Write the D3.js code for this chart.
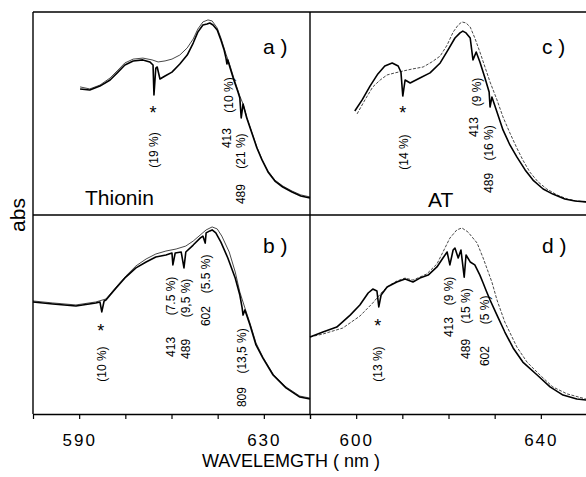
<!DOCTYPE html>
<html>
<head>
<meta charset="utf-8">
<script src="https://cdn.jsdelivr.net/npm/d3@7"></script>
<style>
  body { margin: 0; background: #fff; }
  svg { display: block; font-family: "Liberation Sans", Arial, sans-serif; }
  .frame { stroke: #000; stroke-width: 1.4; fill: none; }
  .sample { stroke: #000; stroke-width: 1.6; fill: none; stroke-linejoin: round; }
  .ref { stroke: #333; stroke-width: 0.9; fill: none; }
  .ref.dashed { stroke-dasharray: 3 1.5; }
  .note { font-size: 12px; }
  .tick text { font-size: 17px; letter-spacing: 2px; }
</style>
</head>
<body>
<svg id="chart" width="586" height="477"></svg>
<script>
// --- data (wavelength nm, abs in arbitrary units 0-100) ---
const thioninTopSample = [[590.2,62.1],[592.3,61.6],[594.5,63.5],[596.7,66.5],[598.4,70.4],[599.9,73.9],[601.7,75.9],[603.8,76.4],[605.3,75.4],[606.0,73.9],[606.2,59.1],[606.6,72.4],[606.9,72.9],[607.5,67.0],[608.6,68.5],[610.1,70.4],[611.8,74.4],[613.4,78.8],[614.7,84.7],[615.7,90.1],[616.8,93.6],[617.7,94.1],[618.3,94.6],[619.0,93.6],[619.9,91.1],[620.7,86.2],[621.4,81.3],[621.8,77.3],[622.0,74.4],[622.2,76.4],[622.7,72.4],[623.5,66.5],[624.4,60.6],[624.8,57.6],[625.1,47.8],[625.5,54.7],[626.3,47.8],[627.4,40.4],[628.5,33.0],[629.6,27.1],[630.9,21.2],[632.4,16.7],[634.1,13.8],[636.1,11.3],[638.0,9.4],[640.0,8.4]];
const thioninTopRef = [[590.2,63.1],[592.3,62.1],[594.5,64.0],[596.7,67.5],[598.4,71.4],[599.9,74.9],[601.7,76.8],[603.8,77.3],[605.8,76.4],[607.1,75.4],[608.6,75.9],[610.1,76.8],[611.8,78.8],[613.4,82.3],[614.7,86.7],[615.7,91.6],[616.8,95.1],[617.9,96.1],[618.8,95.6],[619.9,92.1],[620.7,87.2],[621.8,79.3],[622.7,73.4],[623.5,67.5],[624.8,58.6],[625.5,54.7],[626.3,48.3],[627.4,40.9],[628.5,33.5],[629.6,27.6],[630.9,21.7],[632.4,17.2],[634.1,14.3],[636.1,11.8],[638.0,9.9],[640.0,8.9]];

const thioninBotSample = [[580.0,56.3],[584.3,55.3],[589.3,54.3],[593.6,55.8],[594.5,56.3],[594.9,51.3],[595.4,56.8],[595.8,57.3],[598.0,63.3],[600.1,68.8],[602.3,73.4],[604.5,76.4],[606.6,78.9],[608.8,79.9],[610.1,80.9],[610.3,74.9],[610.8,80.9],[612.1,81.4],[612.7,73.4],[613.1,81.4],[614.7,84.9],[616.2,88.4],[616.8,89.4],[617.3,85.9],[617.5,91.0],[618.3,92.0],[618.8,92.5],[619.6,91.0],[620.7,86.4],[622.2,78.4],[623.8,68.3],[624.8,59.8],[625.3,53.3],[625.5,49.7],[625.9,52.3],[627.0,44.7],[628.3,34.7],[629.8,28.1],[632.0,19.6],[634.8,13.1],[637.8,8.5],[640.0,7.5]];
const thioninBotRef = [[580.0,56.8],[584.3,55.8],[589.3,54.8],[593.6,56.3],[595.8,57.8],[598.0,63.8],[600.1,69.3],[602.3,74.4],[604.5,77.9],[606.6,80.4],[608.8,81.9],[611.0,82.9],[613.1,84.4],[614.7,86.9],[616.2,89.9],[617.5,92.5],[618.8,94.0],[619.9,93.0],[620.9,89.4],[622.5,81.4],[623.8,71.4],[624.8,61.3],[625.9,53.3],[627.0,45.7],[628.3,35.7],[629.8,28.6],[632.0,20.1],[634.8,13.6],[637.8,9.0],[640.0,8.0]];

const atTopSample = [[599.7,51.2],[601.3,56.7],[603.0,63.5],[604.7,69.5],[606.2,73.4],[607.8,74.9],[609.1,73.4],[609.7,70.4],[610.1,58.6],[610.6,66.5],[611.7,65.0],[613.8,67.5],[616.0,70.0],[618.2,74.9],[619.9,81.3],[621.4,87.2],[622.5,89.7],[623.1,90.6],[623.8,89.7],[624.7,87.2],[625.3,76.4],[626.0,80.3],[626.8,75.4],[627.9,67.5],[628.8,60.6],[629.0,53.2],[629.4,58.1],[630.5,50.7],[631.8,41.9],[633.3,34.5],[634.8,28.6],[636.6,22.2],[638.3,17.2],[640.5,12.8],[642.6,10.3],[645.2,7.9],[647.4,6.9],[650.0,6.4]];
const atTopRef = [[600.2,49.8],[601.9,56.7],[603.6,63.1],[605.2,66.5],[606.7,69.0],[608.4,70.0],[610.1,70.9],[612.1,71.9],[614.5,72.9],[616.4,75.4],[618.2,78.3],[619.7,83.7],[621.0,90.1],[622.1,93.6],[622.9,95.1],[623.8,94.6],[624.7,92.6],[625.7,87.2],[626.8,80.3],[627.9,72.9],[629.0,65.5],[630.5,56.7],[631.8,48.3],[633.3,40.4],[634.8,33.0],[636.1,27.1],[637.6,21.2],[639.4,16.3],[641.3,12.8],[643.5,9.9],[645.7,7.9],[647.8,6.9],[650.0,6.4]];

const atBotSample = [[590.0,38.7],[592.8,41.2],[595.8,43.7],[598.7,49.7],[600.8,54.8],[602.6,60.8],[603.6,62.8],[604.5,61.8],[604.9,53.8],[605.4,59.8],[606.7,63.8],[608.8,66.3],[610.6,67.8],[612.3,66.3],[613.8,68.3],[615.6,69.8],[617.5,73.9],[618.8,78.4],[619.7,81.4],[620.3,74.9],[621.0,82.4],[621.4,83.4],[622.1,78.4],[622.7,82.4],[623.4,68.8],[623.8,79.9],[624.7,76.4],[625.7,74.9],[626.8,69.8],[627.5,65.8],[628.1,62.3],[629.0,57.3],[630.5,49.7],[632.2,41.2],[634.0,33.2],[636.1,26.1],[639.2,19.6],[642.0,13.6],[644.8,9.5],[647.8,7.5],[649.8,7.0]];
const atBotRef = [[590.0,38.7],[592.8,40.2],[597.1,43.2],[600.8,49.2],[603.6,55.8],[605.8,61.8],[607.3,64.8],[608.8,66.8],[610.6,68.3],[612.3,67.3],[613.8,68.8],[615.3,70.4],[617.5,75.4],[618.8,81.4],[620.3,88.4],[621.8,92.5],[622.9,93.5],[624.2,91.5],[626.2,85.9],[627.5,78.4],[629.4,66.3],[630.5,57.3],[632.2,46.2],[634.8,33.7],[637.0,26.1],[639.8,19.6],[642.6,13.6],[645.7,10.1],[649.8,7.5]];

// band notes: wavelength, abs level, text
const notesA = [[606.0,52.2,"*"],[606.2,32.0,"(19 %)"],[622.0,37.9,"413"],[622.3,59.1,"(10 %)"],[624.9,31.5,"(21 %)"],[624.9,10.3,"489"]];
const notesB = [[594.7,43.7,"*"],[594.9,25.1,"(10 %)"],[609.9,33.7,"413"],[609.9,59.3,"(7.5 %)"],[613.0,32.7,"489"],[613.0,58.3,"(9,5 %)"],[617.5,49.2,"602"],[617.5,70.4,"(5.5 %)"],[625.3,8.5,"809"],[625.3,31.7,"(13,5 %)"]];
const notesC = [[610.1,52.2,"*"],[610.3,31.0,"(14 %)"],[625.5,43.3,"413"],[626.0,60.6,"(9 %)"],[628.8,35.5,"(16 %)"],[628.8,15.8,"489"]];
const notesD = [[604.7,46.2,"*"],[604.7,25.1,"(13 %)"],[620.1,43.7,"413"],[620.1,61.8,"(9 %)"],[623.8,54.3,"(15 %)"],[623.8,32.7,"489"],[627.9,52.3,"(5 %)"],[627.9,29.1,"602"]];

const ticksLeft = [580, 590, 600, 610, 620, 630, 640];
const ticksRight = [590, 600, 610, 620, 630, 640, 650];
const tickLabelsLeft = [590, 630];
const tickLabelsRight = [600, 640];

// --- layout ---
const svg = d3.select("#chart");
const cols = [
  { x0: 33, x1: 310, domain: [580, 640], ticks: ticksLeft, labels: tickLabelsLeft },
  { x0: 310, x1: 587, domain: [590, 650], ticks: ticksRight, labels: tickLabelsRight }
];
const rows = [{ y0: 12, y1: 215 }, { y0: 215, y1: 414 }];

const panels = [
  { col: 0, row: 0, sample: thioninTopSample, ref: thioninTopRef, notes: notesA, tag: "a )", dashed: false },
  { col: 0, row: 1, sample: thioninBotSample, ref: thioninBotRef, notes: notesB, tag: "b )", dashed: false },
  { col: 1, row: 0, sample: atTopSample, ref: atTopRef, notes: notesC, tag: "c )", dashed: true },
  { col: 1, row: 1, sample: atBotSample, ref: atBotRef, notes: notesD, tag: "d )", dashed: true }
];

cols.forEach(c => { c.x = d3.scaleLinear().domain(c.domain).range([c.x0, c.x1]); });
rows.forEach(r => { r.y = d3.scaleLinear().domain([0, 100]).range([r.y1, r.y0]); });

panels.forEach(p => {
  const x = cols[p.col].x, y = rows[p.row].y;
  const line = d3.line().x(d => x(d[0])).y(d => y(d[1]));
  const g = svg.append("g");

  g.append("path").datum(p.ref).attr("class", p.dashed ? "ref dashed" : "ref").attr("d", line);
  g.append("path").datum(p.sample).attr("class", "sample").attr("d", line);

  g.selectAll(".note").data(p.notes).enter().append("text")
    .attr("class", "note")
    .attr("text-anchor", "middle")
    .attr("transform", d => d[2] == "*"
      ? `translate(${x(d[0])},${y(d[1]) + 10})`
      : `translate(${x(d[0])},${y(d[1])})rotate(-90)`)
    .attr("dy", d => d[2] == "*" ? 0 : "0.36em")
    .style("font-size", d => d[2] == "*" ? "18px" : null)
    .text(d => d[2]);

  g.append("text")
    .attr("x", cols[p.col].x1 - (p.col == 0 ? 47 : 45))
    .attr("y", rows[p.row].y0 + (p.row == 0 ? 42 : 38))
    .style("font-size", "21px")
    .text(p.tag);
});

// compound names
svg.append("text").attr("x", 85).attr("y", 205).style("font-size", "21px").text("Thionin");
svg.append("text").attr("x", 428).attr("y", 207).style("font-size", "21px").text("AT");

// frame
svg.append("line").attr("class", "frame").attr("x1", 33).attr("x2", 587).attr("y1", 12).attr("y2", 12);
svg.append("line").attr("class", "frame").attr("x1", 33).attr("x2", 587).attr("y1", 215).attr("y2", 215);
svg.append("line").attr("class", "frame").attr("x1", 33).attr("x2", 33).attr("y1", 12).attr("y2", 414);
svg.append("line").attr("class", "frame").attr("x1", 310).attr("x2", 310).attr("y1", 12).attr("y2", 414);

// bottom axes
cols.forEach(c => {
  const axis = d3.axisBottom(c.x)
    .tickValues(c.ticks)
    .tickSize(5)
    .tickSizeOuter(0)
    .tickPadding(15)
    .tickFormat(d => c.labels.includes(d) ? d : "");
  const ax = svg.append("g").attr("transform", "translate(0,414)").call(axis);
  ax.select(".domain").attr("stroke-width", 1.4);
  ax.selectAll(".tick line").attr("stroke-width", 1.2);
  ax.selectAll(".tick text").attr("fill", "#000");
  ax.selectAll(".tick text").filter(d => !c.labels.includes(d)).remove();
});

svg.append("text")
  .attr("x", 291).attr("y", 467)
  .attr("text-anchor", "middle")
  .style("font-size", "18px")
  .text("WAVELEMGTH ( nm )");

svg.append("text")
  .attr("transform", "translate(25,215)rotate(-90)")
  .attr("text-anchor", "middle")
  .style("font-size", "21px")
  .text("abs");
</script>
</body>
</html>
